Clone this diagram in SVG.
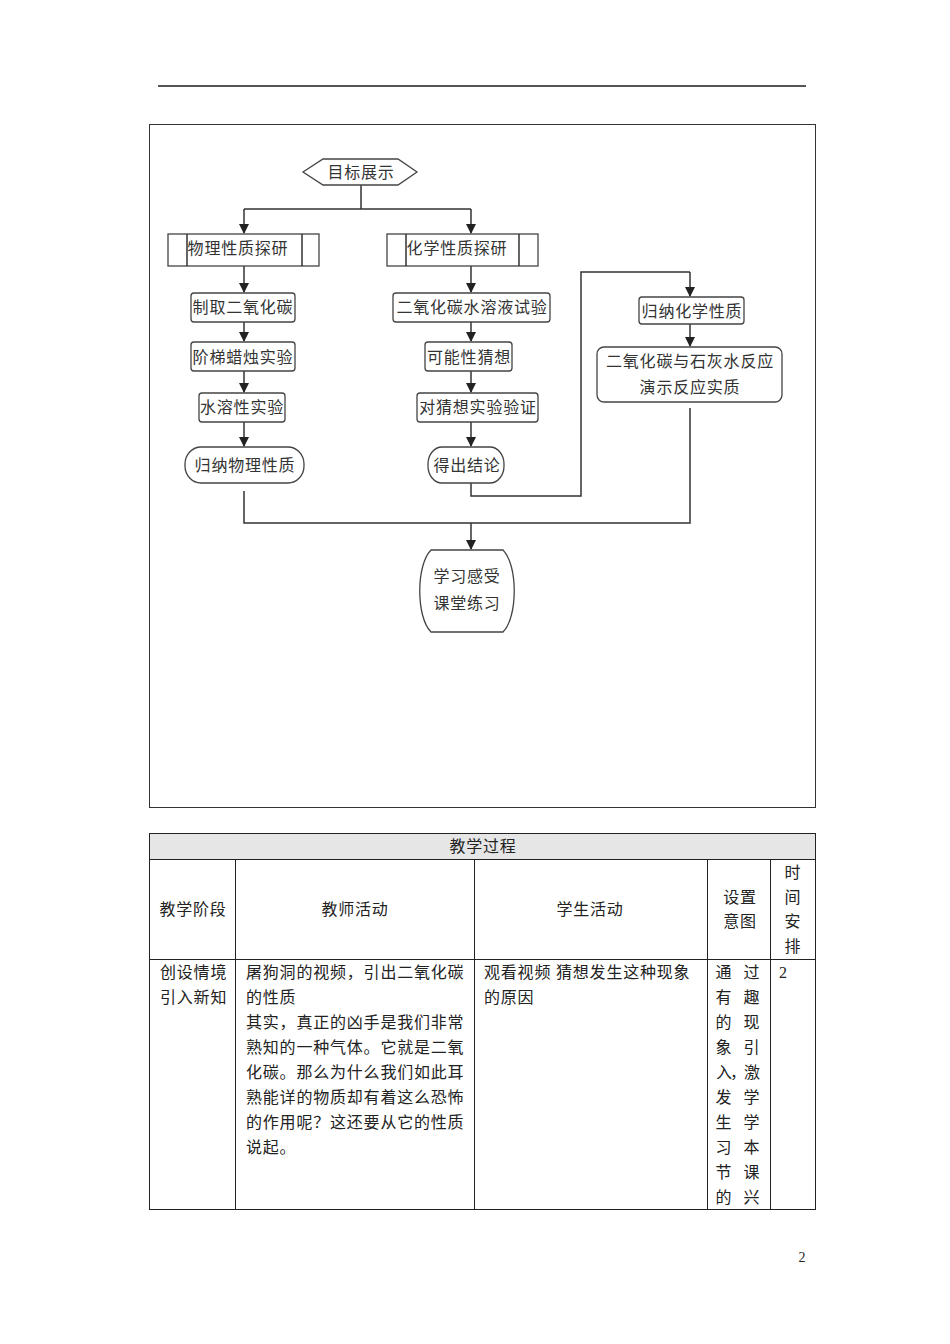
<svg xmlns="http://www.w3.org/2000/svg" width="950" height="1344" viewBox="0 0 950 1344">
<defs>
<marker id="arr" markerUnits="userSpaceOnUse" markerWidth="10" markerHeight="11" refX="9" refY="5" orient="auto">
<path d="M0,0 L10,5 L0,10 Z" fill="#222"/>
</marker>
<style>
.t{font-family:"Liberation Serif","Noto Sans CJK SC",serif;font-size:16px;fill:#222;letter-spacing:0.8px}
.fc{font-family:"Liberation Serif","Noto Sans CJK SC",serif;font-size:16px;fill:#333;letter-spacing:0.8px;text-anchor:middle;dominant-baseline:central}
.box{fill:#fff;stroke:#444;stroke-width:1.3}
.ln{fill:none;stroke:#333;stroke-width:1.5}
.ar{fill:none;stroke:#333;stroke-width:1.5;marker-end:url(#arr)}
.tb{fill:none;stroke:#222;stroke-width:1}
.c{text-anchor:middle;dominant-baseline:central}
</style>
</defs>
<rect width="950" height="1344" fill="#fff"/>
<line x1="158" y1="86" x2="806" y2="86" stroke="#555" stroke-width="2"/>
<rect x="149.5" y="124.5" width="666" height="683" fill="none" stroke="#333" stroke-width="1"/>

<g id="connectors">
<path class="ln" d="M361,185 V209 M244,209 H471"/>
<path class="ar" d="M244,209 V233"/>
<path class="ar" d="M471,209 V233"/>
<path class="ar" d="M244,266 V292"/>
<path class="ar" d="M244,322 V341"/>
<path class="ar" d="M244,371 V392"/>
<path class="ar" d="M244,422 V446"/>
<path class="ar" d="M471,266 V292"/>
<path class="ar" d="M471,322 V341"/>
<path class="ar" d="M471,371 V392"/>
<path class="ar" d="M471,422 V446"/>
<path class="ln" d="M471,483 V496 H581 V272 H690"/>
<path class="ar" d="M690,272 V296"/>
<path class="ar" d="M690,324 V346"/>
<path class="ln" d="M244,491 V523 H690 V408"/>
<path class="ar" d="M471,523 V549"/>
</g>

<g id="n-goal">
<polygon class="box" points="303,172 323,159 398,159 417,172 398,185 323,185"/>
<text class="fc" x="361" y="172">目标展示</text>
</g>
<g id="n-phys">
<rect class="box" x="168" y="234" width="151" height="32"/>
<path class="ln" d="M187,234 V266 M302,234 V266" stroke-width="1.3"/>
<text class="fc" x="238" y="248">物理性质探研</text>
</g>
<g id="n-chem">
<rect class="box" x="387" y="234" width="151" height="32"/>
<path class="ln" d="M406,234 V266 M519,234 V266" stroke-width="1.3"/>
<text class="fc" x="457" y="248">化学性质探研</text>
</g>
<g id="n-p1">
<rect class="box" x="191" y="293" width="104" height="29" rx="3"/>
<text class="fc" x="243" y="307">制取二氧化碳</text>
</g>
<g id="n-p2">
<rect class="box" x="191" y="342" width="104" height="29" rx="3"/>
<text class="fc" x="243" y="357">阶梯蜡烛实验</text>
</g>
<g id="n-p3">
<rect class="box" x="199" y="393" width="86" height="29" rx="3"/>
<text class="fc" x="242" y="407">水溶性实验</text>
</g>
<g id="n-p4">
<rect class="box" x="185" y="447" width="119" height="36" rx="16" ry="17"/>
<text class="fc" x="245" y="465">归纳物理性质</text>
</g>
<g id="n-c1">
<rect class="box" x="393" y="293" width="157" height="29" rx="3"/>
<text class="fc" x="472" y="307">二氧化碳水溶液试验</text>
</g>
<g id="n-c2">
<rect class="box" x="425" y="342" width="87" height="29" rx="3"/>
<text class="fc" x="469" y="357">可能性猜想</text>
</g>
<g id="n-c3">
<rect class="box" x="417" y="393" width="121" height="29" rx="3"/>
<text class="fc" x="478" y="407">对猜想实验验证</text>
</g>
<g id="n-c4">
<rect class="box" x="428" y="447" width="76" height="36" rx="14" ry="17"/>
<text class="fc" x="467" y="465">得出结论</text>
</g>
<g id="n-c5">
<rect class="box" x="639" y="297" width="105" height="27" rx="3"/>
<text class="fc" x="692" y="311">归纳化学性质</text>
</g>
<g id="n-c6">
<rect class="box" x="597" y="347" width="185" height="55" rx="7"/>
<text class="fc" x="690" y="361">二氧化碳与石灰水反应</text>
<text class="fc" x="690" y="387">演示反应实质</text>
</g>
<g id="n-end">
<path class="box" d="M431,550 H503 C518,565 518,617 503,632 H431 C416,617 416,565 431,550 Z"/>
<text class="fc" x="467" y="576">学习感受</text>
<text class="fc" x="467" y="603">课堂练习</text>
</g>

<g id="table">
<rect x="149" y="833" width="667" height="26" fill="#e6e6e6"/>
<path class="tb" d="M149,833.5 H816 M149,859.5 H816 M149,959.5 H816 M149,1209.5 H816 M149.5,833 V1210 M815.5,833 V1210 M235.5,859 V1210 M474.5,859 V1210 M707.5,859 V1210 M770.5,859 V1210"/>
<text class="t c" x="483" y="846">教学过程</text>
<text class="t c" x="193" y="909">教学阶段</text>
<text class="t c" x="355" y="909">教师活动</text>
<text class="t c" x="590" y="909">学生活动</text>
<text class="t c" x="740" y="897">设置</text>
<text class="t c" x="740" y="921">意图</text>
<text class="t c" x="793" y="872">时</text>
<text class="t c" x="793" y="897">间</text>
<text class="t c" x="793" y="921">安</text>
<text class="t c" x="793" y="946">排</text>

<g class="t" style="dominant-baseline:central">
<text x="160" y="972">创设情境</text>
<text x="160" y="997">引入新知</text>
<text x="246" y="972">屠狗洞的视频，引出二氧化碳</text>
<text x="246" y="997">的性质</text>
<text x="246" y="1022">其实，真正的凶手是我们非常</text>
<text x="246" y="1047">熟知的一种气体。它就是二氧</text>
<text x="246" y="1072">化碳。那么为什么我们如此耳</text>
<text x="246" y="1097">熟能详的物质却有着这么恐怖</text>
<text x="246" y="1122">的作用呢？这还要从它的性质</text>
<text x="246" y="1147">说起。</text>
<text x="484" y="972">观看视频 猜想发生这种现象</text>
<text x="484" y="997">的原因</text>
<text x="779" y="972" style="font-size:16px">2</text>
<text x="716" y="1072" style="letter-spacing:-2px">入，激</text>
</g>
<g class="t" style="text-anchor:middle;dominant-baseline:central">
<text x="724" y="972">通</text><text x="752" y="972">过</text>
<text x="724" y="997">有</text><text x="752" y="997">趣</text>
<text x="724" y="1022">的</text><text x="752" y="1022">现</text>
<text x="724" y="1047">象</text><text x="752" y="1047">引</text>
<text x="724" y="1097">发</text><text x="752" y="1097">学</text>
<text x="724" y="1122">生</text><text x="752" y="1122">学</text>
<text x="724" y="1147">习</text><text x="752" y="1147">本</text>
<text x="724" y="1172">节</text><text x="752" y="1172">课</text>
<text x="724" y="1197">的</text><text x="752" y="1197">兴</text>
</g>
</g>
<text x="802" y="1262" style="font-family:'Liberation Serif',serif;font-size:14px;fill:#222;text-anchor:middle">2</text>
</svg>
